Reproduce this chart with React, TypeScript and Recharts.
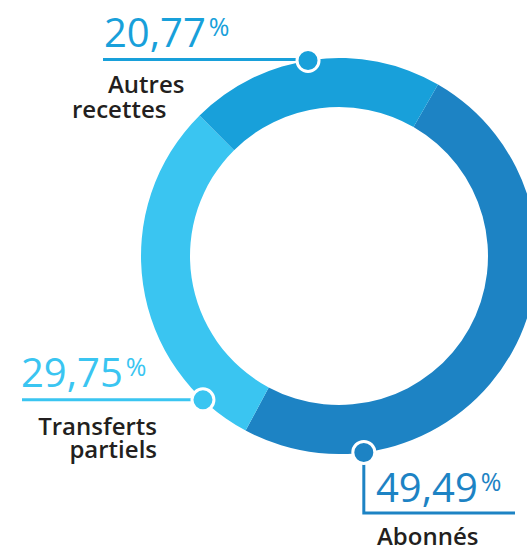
import React from 'react';
import { PieChart, Pie, Cell } from 'recharts';

const categories = ['Abonnés', 'Transferts partiels', 'Autres recettes'];
const values = [49.49, 29.75, 20.77];
const valueLabels = ['49,49', '29,75', '20,77'];
const nameLines = [['Abonnés'], ['Transferts', 'partiels'], ['Autres', 'recettes']];

const COLORS = ['#1d83c4', '#3ac5f1', '#18a0da'];
const TEXT_DARK = '#231f20';
const FONT = '"Open Sans", "Noto Sans", sans-serif';
const NAME_SIZE = 24;

const data = categories.map((name, i) => ({ name, value: values[i] }));

// annotation layout (angles in recharts convention, degrees ccw from 3 o'clock)
const DOT_ANGLE = [-82.8, -133.4, 99];

const RADIAN = Math.PI / 180;
const polar = (cx: number, cy: number, r: number, a: number) => ({
  x: cx + Math.cos(-a * RADIAN) * r,
  y: cy + Math.sin(-a * RADIAN) * r,
});

const Num = ({ x, y, color, text }: { x: number; y: number; color: string; text: string }) => (
  <text x={x} y={y} fill={color} fontFamily={FONT}>
    <tspan fontSize={40}>{text}</tspan>
    <tspan fontSize={25} dx={3} dy={-11}>%</tspan>
  </text>
);

// multi-line name: one <text>, each line a tspan with its own x and baseline
const Name = ({ xs, ys, lines, anchor }: { xs: number[]; ys: number[]; lines: string[]; anchor?: string }) => (
  <text textAnchor={anchor || 'start'} fill={TEXT_DARK} fontSize={NAME_SIZE} fontWeight={600} fontFamily={FONT}>
    {lines.map((l, i) => (
      <tspan key={i} x={xs[i]} y={ys[i]}>{l}</tspan>
    ))}
  </text>
);

const renderLabel = (props: any) => {
  const { cx, cy, outerRadius, index } = props;
  const p = polar(cx, cy, outerRadius, DOT_ANGLE[index]);
  const color = COLORS[index];
  const num = valueLabels[index];
  const lines = nameLines[index];
  let path = '';
  let texts: React.ReactNode = null;
  if (index === 0) {
    path = `M${p.x},${p.y} L${p.x},513 L515,513`;
    texts = (
      <g>
        <Num x={376} y={502} color={color} text={num} />
        <Name xs={[377]} ys={[545]} lines={lines} />
      </g>
    );
  } else if (index === 1) {
    path = `M22,${p.y} L${p.x},${p.y}`;
    texts = (
      <g>
        <Num x={21} y={387} color={color} text={num} />
        <Name xs={[157, 157]} ys={[435, 458]} lines={lines} anchor="end" />
      </g>
    );
  } else {
    path = `M103,${p.y - 1} L${p.x},${p.y - 1}`;
    texts = (
      <g>
        <Num x={104} y={47} color={color} text={num} />
        <Name xs={[108, 72]} ys={[93, 118]} lines={lines} />
      </g>
    );
  }
  return (
    <g key={`lbl-${index}`}>
      <path d={path} stroke={color} strokeWidth={3} fill="none" />
      <circle cx={p.x} cy={p.y} r={11} fill={color} stroke="#ffffff" strokeWidth={3} />
      {texts}
    </g>
  );
};

export default function App() {
  return (
    <div style={{ position: 'absolute', left: 0, top: 0, width: 527, height: 551, background: '#fff' }}>
      <PieChart width={527} height={551} margin={{ top: 0, right: 0, bottom: 0, left: 0 }}>
        <Pie
          data={data}
          dataKey="value"
          nameKey="name"
          cx={339}
          cy={256}
          innerRadius={149}
          outerRadius={198}
          startAngle={60}
          endAngle={-300}
          stroke="none"
          label={renderLabel}
          labelLine={false}
          isAnimationActive={false}
        >
          {data.map((d, i) => (
            <Cell key={d.name} fill={COLORS[i]} />
          ))}
        </Pie>
      </PieChart>
    </div>
  );
}
